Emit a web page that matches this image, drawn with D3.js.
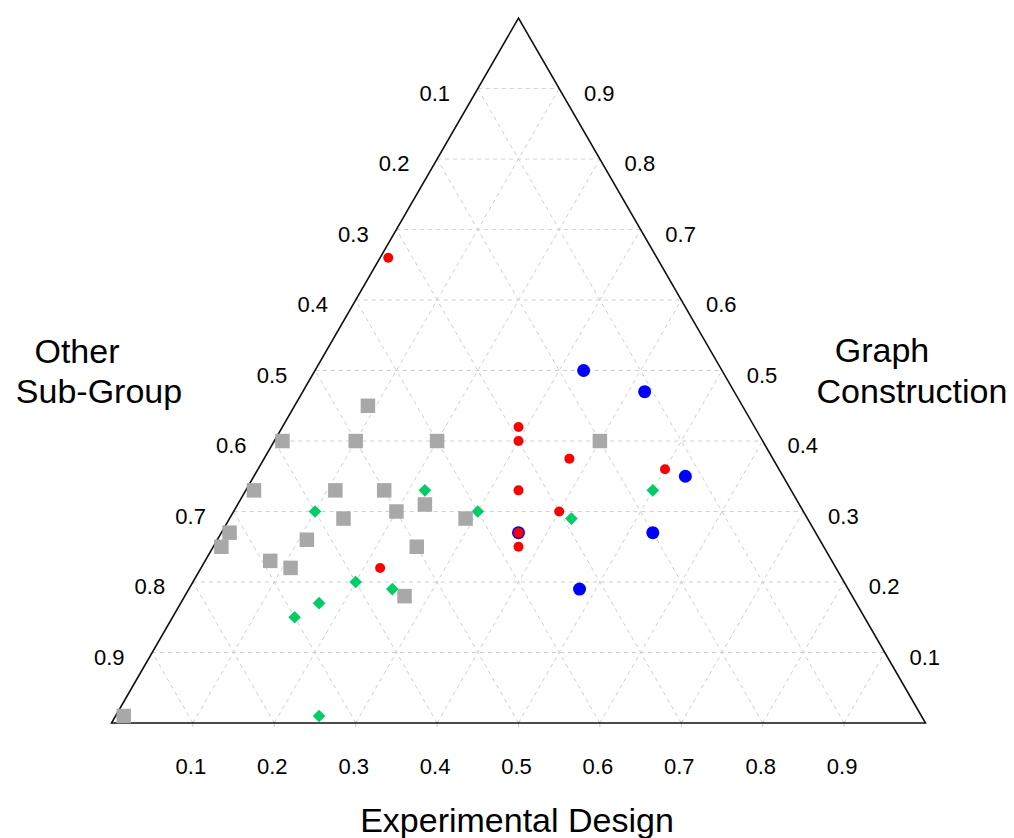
<!DOCTYPE html>
<html>
<head>
<meta charset="utf-8">
<script src="https://cdn.jsdelivr.net/npm/d3@7"></script>
<style>
  body { margin: 0; background: #fff; }
  text { font-family: "Liberation Sans", Arial, sans-serif; fill: #000; }
</style>
</head>
<body>
<script>
'use strict';

// points as [Experimental Design, Graph Construction]; Other Sub-Group = 1 - both
const bluePts = [[0.33, 0.50], [0.42, 0.47], [0.53, 0.35], [0.53, 0.27], [0.48, 0.19], [0.365, 0.27], [0.20, 0.40]];
const redPts = [[0.01, 0.66], [0.29, 0.42], [0.30, 0.40], [0.375, 0.375], [0.335, 0.33], [0.40, 0.30],
  [0.365, 0.27], [0.375, 0.25], [0.50, 0.36], [0.22, 0.22]];
const greenPts = [[0.10, 0.30], [0.22, 0.33], [0.30, 0.30], [0.42, 0.29], [0.50, 0.33], [0.20, 0.20],
  [0.25, 0.19], [0.17, 0.17], [0.15, 0.15], [0.25, 0.01]];
const greyPts = [[0.09, 0.45], [0.01, 0.40], [0.10, 0.40], [0.20, 0.40], [0.40, 0.40], [0.01, 0.33],
  [0.11, 0.33], [0.17, 0.33], [0.14, 0.29], [0.20, 0.30], [0.23, 0.31], [0.29, 0.29], [0.01, 0.27],
  [0.01, 0.25], [0.11, 0.26], [0.08, 0.23], [0.11, 0.22], [0.25, 0.25], [0.27, 0.18], [0.01, 0.01]];
const ticks = [0.1, 0.2, 0.3, 0.4, 0.5, 0.6, 0.7, 0.8, 0.9];

const svg = d3.select('body').append('svg')
  .attr('width', 1014)
  .attr('height', 838);

// horizontal position follows ED + GC/2, vertical follows GC
const x0 = 111.5, side = 814, yb = 723;
const xScale = d3.scaleLinear().domain([0, 1]).range([x0, x0 + side]);
const yScale = d3.scaleLinear().domain([0, 1]).range([yb, yb - side * Math.sqrt(3) / 2]);
const px = (ed, gc) => xScale(ed + gc / 2);
const py = (gc) => yScale(gc);

// dashed grid
const grid = svg.append('g')
  .attr('stroke', '#cfcfcf')
  .attr('stroke-width', 1)
  .attr('stroke-dasharray', '4,4');

const gridLines = [];
ticks.forEach((k) => {
  gridLines.push([[0, k], [1 - k, k]]);       // constant GC
  gridLines.push([[k, 0], [k, 1 - k]]);       // constant ED
  gridLines.push([[1 - k, 0], [0, 1 - k]]);   // constant Other
});
grid.selectAll('line')
  .data(gridLines)
  .enter()
  .append('line')
    .attr('x1', (d) => px(d[0][0], d[0][1]))
    .attr('y1', (d) => py(d[0][1]))
    .attr('x2', (d) => px(d[1][0], d[1][1]))
    .attr('y2', (d) => py(d[1][1]));

// small ticks on the bottom edge
svg.append('g').selectAll('line')
  .data(ticks)
  .enter()
  .append('line')
    .attr('x1', (k) => px(k, 0))
    .attr('x2', (k) => px(k, 0))
    .attr('y1', py(0) - 2)
    .attr('y2', py(0) + 4)
    .attr('stroke', '#cfcfcf')
    .attr('stroke-width', 1);

// triangle outline
const corners = [[0, 0], [1, 0], [0, 1]];
svg.append('path')
  .attr('d', d3.line().x((d) => px(d[0], d[1])).y((d) => py(d[1]))(corners) + 'Z')
  .attr('fill', 'none')
  .attr('stroke', '#111')
  .attr('stroke-width', 1.6);

// tick labels
const fmt = d3.format('.1f');
svg.append('g').selectAll('text')
  .data(ticks)
  .enter()
  .append('text')
    .attr('x', (k) => px(k, 0) - 2)
    .attr('y', 774)
    .attr('text-anchor', 'middle')
    .style('font-size', '22px')
    .text(fmt);

svg.append('g').selectAll('text')
  .data(ticks)
  .enter()
  .append('text')
    .attr('x', (k) => px(0, 1 - k) - 43)
    .attr('y', (k) => py(1 - k) + 12)
    .attr('text-anchor', 'middle')
    .style('font-size', '22px')
    .text(fmt);

svg.append('g').selectAll('text')
  .data(ticks)
  .enter()
  .append('text')
    .attr('x', (k) => px(1 - k, k) + 40)
    .attr('y', (k) => py(k) + 12)
    .attr('text-anchor', 'middle')
    .style('font-size', '22px')
    .text(fmt);

// axis titles
function title(str, x, y) {
  svg.append('text')
    .attr('x', x)
    .attr('y', y)
    .attr('text-anchor', 'middle')
    .style('font-size', '34px')
    .text(str);
}
title('Other', 77, 363);
title('Sub-Group', 99, 403);
title('Graph', 882, 362);
title('Construction', 912, 403);
title('Experimental Design', 517, 832);

// points
function plotCircles(pts, r, color) {
  svg.append('g').selectAll('circle')
    .data(pts)
    .enter()
    .append('circle')
      .attr('cx', (d) => px(d[0], d[1]))
      .attr('cy', (d) => py(d[1]))
      .attr('r', r)
      .style('fill', color);
}
function plotSymbols(pts, type, size, angle, color) {
  svg.append('g').selectAll('path')
    .data(pts)
    .enter()
    .append('path')
      .attr('transform', (d) => 'translate(' + px(d[0], d[1]) + ',' + py(d[1]) + ')rotate(' + angle + ')')
      .attr('d', d3.symbol().type(type).size(size))
      .style('fill', color);
}

plotCircles(bluePts, 6.5, '#0000ff');
plotCircles(redPts, 5, '#ff0000');
plotSymbols(greenPts, d3.symbolSquare, 80, 45, '#00cd66');
plotSymbols(greyPts, d3.symbolSquare, 210, 0, '#a8a8a8');
</script>
</body>
</html>
